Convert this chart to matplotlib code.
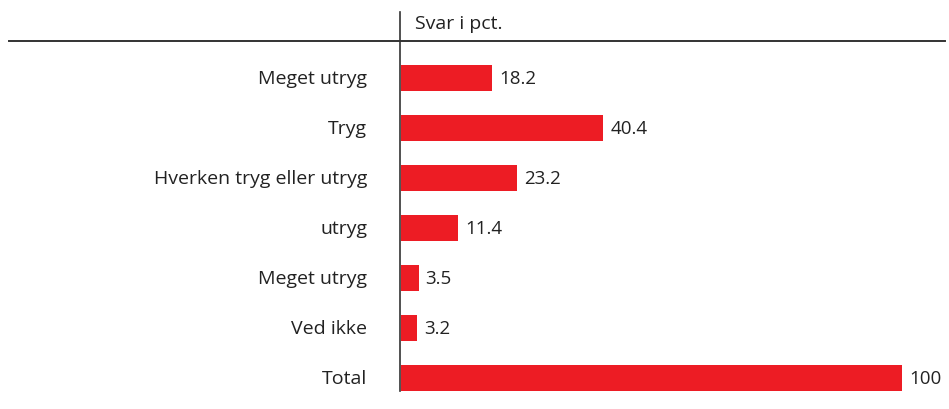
import matplotlib
matplotlib.use("Agg")
import matplotlib.pyplot as plt
from matplotlib.lines import Line2D

categories = ["Meget utryg", "Tryg", "Hverken tryg eller utryg", "utryg", "Meget utryg", "Ved ikke", "Total"]
values = [18.2, 40.4, 23.2, 11.4, 3.5, 3.2, 100]
value_labels = ["18.2", "40.4", "23.2", "11.4", "3.5", "3.2", "100"]
header = "Svar i pct."

W, H = 949, 410
plt.rcParams['font.family'] = ['Open Sans', 'DejaVu Sans']
fig = plt.figure(figsize=(W/100, H/100), dpi=100)

x0 = 401
px_per_unit = 5.01
ax = fig.add_axes([x0/W, 0, (W-x0)/W, 1])
ax.set_xlim(0, (W-x0)/px_per_unit)
top_c, step = 79, 50
ax.set_ylim((H-top_c)/step, -top_c/step)
ax.axis('off')

red = '#ed1c24'
txt = '#222222'
fs = 14
ypos = list(range(len(values)))
ax.barh(ypos, values, height=26/step, color=red, left=0)
for y, v, lab in zip(ypos, values, value_labels):
    ax.text(v + 7/px_per_unit, y, lab, va='center', ha='left', fontsize=13.5, color=txt)

for i, c in enumerate(categories):
    fig.text(367/W, 1 - (top_c + step*i)/H, c, ha='right', va='center', fontsize=fs, color=txt)

fig.text(415/W, 1 - 24/H, header, ha='left', va='center', fontsize=fs, color=txt)

fig.add_artist(Line2D([400/W, 400/W], [1-13/H, 1-392/H], color='#333333', lw=1.2, transform=fig.transFigure))
fig.add_artist(Line2D([9/W, 945/W], [1-41.5/H, 1-41.5/H], color='#333333', lw=1.4, transform=fig.transFigure))

fig.savefig("out.png", dpi=100)
